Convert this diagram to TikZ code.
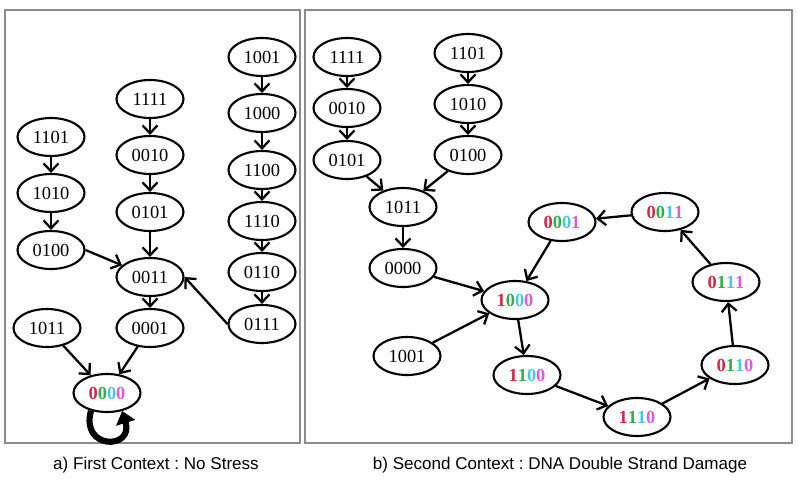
\documentclass[tikz,border=0pt]{standalone}
\usepackage{fontspec}
\setmainfont{Liberation Serif}
\newfontfamily\capfont{Liberation Sans}
\usetikzlibrary{shapes.geometric,arrows.meta}

\definecolor{bitA}{RGB}{214,38,72}
\definecolor{bitB}{RGB}{52,172,72}
\definecolor{bitC}{RGB}{72,198,228}
\definecolor{bitD}{RGB}{222,92,210}
\newcommand{\cbits}[4]{\textbf{\textcolor{bitA}{#1}\textcolor{bitB}{#2}\textcolor{bitC}{#3}\textcolor{bitD}{#4}}}

\tikzset{
  state/.style={draw, ellipse, line width=1.2pt, minimum width=1.34cm,
    minimum height=0.76cm, inner sep=0pt, font=\fontsize{10.5}{11}\selectfont},
  trans/.style={line width=1.3pt, -{Straight Barb[length=4.5pt,width=8.5pt]}},
  panel/.style={draw=black!45, line width=1.2pt},
  caption/.style={font=\capfont\fontsize{9.7}{11}\selectfont},
}

\begin{document}
\frenchspacing
\begin{tikzpicture}[x=0.02cm, y=-0.02cm]
\useasboundingbox (0,0) rectangle (798,480);

% panels
\draw[panel] (5,10) rectangle (300,443);
\draw[panel] (305,10) rectangle (792,443);
\node[caption] (capA) at (156,465) {a) First Context : No Stress};
\node[caption] (capB) at (560,465) {b) Second Context : DNA Double Strand Damage};

% a) first context
\node[state] (a1001) at (262,57)  {1001};
\node[state] (a1000) at (262,113) {1000};
\node[state] (a1100) at (262,170) {1100};
\node[state] (a1110) at (262,221) {1110};
\node[state] (a0110) at (262,272) {0110};
\node[state] (a0111) at (262,324) {0111};
\node[state] (a1111) at (150,99)  {1111};
\node[state] (a0010) at (150,155) {0010};
\node[state] (a0101) at (150,212) {0101};
\node[state] (a0011) at (150,277) {0011};
\node[state] (a0001) at (150,328) {0001};
\node[state] (a1101) at (51,137)  {1101};
\node[state] (a1010) at (51,193)  {1010};
\node[state] (a0100) at (51,250)  {0100};
\node[state] (a1011) at (47,328)  {1011};
\node[state] (a0000) at (107,393) {\cbits0000};

\draw[trans] (a1001) -- (a1000);
\draw[trans] (a1000) -- (a1100);
\draw[trans] (a1100) -- (a1110);
\draw[trans] (a1110) -- (a0110);
\draw[trans] (a0110) -- (a0111);
\draw[trans] (a0111.west) -- (a0011.east);
\draw[trans] (a1111) -- (a0010);
\draw[trans] (a0010) -- (a0101);
\draw[trans] (a0101) -- (a0011);
\draw[trans] (a1101) -- (a1010);
\draw[trans] (a1010) -- (a0100);
\draw[trans] (a0100.east) -- (a0011);
\draw[trans] (a0011) -- (a0001);
\draw[trans] (a0001) -- (a0000);
\draw[trans] (a1011) -- (a0000);
\draw[line width=3.5pt, -{Triangle[length=7pt,width=11pt]}]
  (a0000.228) .. controls (80,450) and (134,450) .. (a0000.310);

% b) second context
\node[state] (b1111) at (347,57)  {1111};
\node[state] (b0010) at (347,108) {0010};
\node[state] (b0101) at (347,160) {0101};
\node[state] (b1101) at (468,53)  {1101};
\node[state] (b1010) at (468,104) {1010};
\node[state] (b0100) at (468,155) {0100};
\node[state] (b1011) at (403,207) {1011};
\node[state] (b0000) at (403,268) {0000};
\node[state] (b1001) at (407,356) {1001};
\node[state] (b1000) at (515,300) {\cbits1000};
\node[state] (b1100) at (527,375) {\cbits1100};
\node[state] (b1110) at (637,417) {\cbits1110};
\node[state] (b0110) at (735,365) {\cbits0110};
\node[state] (b0111) at (726,282) {\cbits0111};
\node[state] (b0011) at (665,212) {\cbits0011};
\node[state] (b0001) at (562,222) {\cbits0001};

\draw[trans] (b1111) -- (b0010);
\draw[trans] (b0010) -- (b0101);
\draw[trans] (b0101) -- (b1011);
\draw[trans] (b1101) -- (b1010);
\draw[trans] (b1010) -- (b0100);
\draw[trans] (b0100) -- (b1011);
\draw[trans] (b1011) -- (b0000);
\draw[trans] (b0000) -- (b1000);
\draw[trans] (b1001) -- (b1000);
\draw[trans] (b1000) -- (b1100);
\draw[trans] (b1100) -- (b1110);
\draw[trans] (b1110) -- (b0110);
\draw[trans] (b0110) -- (b0111);
\draw[trans] (b0111) -- (b0011);
\draw[trans] (b0011) -- (b0001);
\draw[trans] (b0001) -- (b1000);
\end{tikzpicture}
\end{document}
